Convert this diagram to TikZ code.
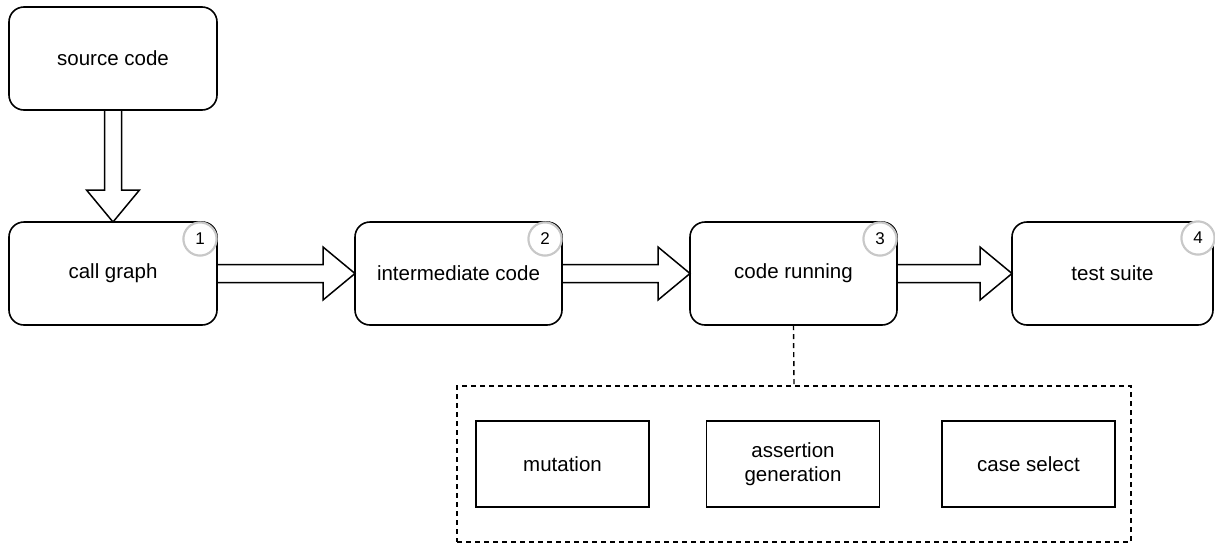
\documentclass[tikz,border=0pt]{standalone}
\usepackage{fontspec}
\setmainfont{Liberation Sans}
\usetikzlibrary{calc}
\definecolor{ringgray}{HTML}{C8C8C8}
\tikzset{
  stage/.style={draw=black, line width=1.6pt, rounded corners=15pt, fill=white,
    minimum width=207pt, minimum height=103pt, outer sep=0pt, inner sep=0pt,
    font=\fontsize{20.5}{24}\selectfont},
  sub/.style={draw=black, line width=1.6pt, fill=white,
    minimum width=173pt, minimum height=86pt, outer sep=0pt, inner sep=0pt,
    align=center, font=\fontsize{20.5}{24}\selectfont},
  numring/.style={circle, draw=ringgray, line width=2pt, fill=white,
    minimum size=33pt, inner sep=0pt, outer sep=0pt,
    font=\fontsize{17}{20}\selectfont},
  group/.style={draw=black, line width=1.4pt, dash pattern=on 5pt off 4pt,
    minimum width=674pt, minimum height=156pt, outer sep=0pt},
  blockarrow/.style={draw=black, line width=1.5pt, fill=white, line join=miter},
  link/.style={draw=black, line width=1.4pt, dash pattern=on 5pt off 4pt}
}
\begin{document}
\begin{tikzpicture}[x=1pt, y=-1pt]
\useasboundingbox (0,0) rectangle (1215,544);

\node[stage, minimum width=208pt] (src) at (113,58.5) {source code};
\node[stage, minimum width=208pt] (b1) at (113,273.5) {call graph};
\node[stage] (b2) at (458.5,273.5) {intermediate code};
\node[stage] (b3) at (793.5,273.5) {code running};
\node[stage, minimum width=201pt] (b4) at (1112.5,273.5) {test suite};

\node[numring] (n1) at ($(b1.north east)+(-17,17)$) {1};
\node[numring] (n2) at ($(b2.north east)+(-17,17)$) {2};
\node[numring] (n3) at ($(b3.north east)+(-17,17)$) {3};
\node[numring] (n4) at ($(b4.north east)+(-15,16)$) {4};

% vertical block arrow
\draw[blockarrow] ($(src.south)+(-8.5,0)$) -- ($(b1.north)+(-8.5,-32)$)
  -- ($(b1.north)+(-26.5,-32)$) -- (b1.north) -- ($(b1.north)+(26.5,-32)$)
  -- ($(b1.north)+(8.5,-32)$) -- ($(src.south)+(8.5,0)$) -- cycle;

% horizontal block arrows
\draw[blockarrow] ($(b1.east)+(0,-9)$) -- ($(b2.west)+(-32,-9)$)
  -- ($(b2.west)+(-32,-26.5)$) -- (b2.west) -- ($(b2.west)+(-32,26.5)$)
  -- ($(b2.west)+(-32,9)$) -- ($(b1.east)+(0,9)$) -- cycle;
\draw[blockarrow] ($(b2.east)+(0,-9)$) -- ($(b3.west)+(-32,-9)$)
  -- ($(b3.west)+(-32,-26.5)$) -- (b3.west) -- ($(b3.west)+(-32,26.5)$)
  -- ($(b3.west)+(-32,9)$) -- ($(b2.east)+(0,9)$) -- cycle;
\draw[blockarrow] ($(b3.east)+(0,-9)$) -- ($(b4.west)+(-32,-9)$)
  -- ($(b4.west)+(-32,-26.5)$) -- (b4.west) -- ($(b4.west)+(-32,26.5)$)
  -- ($(b4.west)+(-32,9)$) -- ($(b3.east)+(0,9)$) -- cycle;

% redraw rings on top of box borders
\node[numring] at (n1) {1};
\node[numring] at (n2) {2};
\node[numring] at (n3) {3};
\node[numring] at (n4) {4};

% dashed group
\node[group] (grp) at (794,464) {};
\node[sub] (mut) at (562.5,464) {mutation};
\node[sub] (asg) at (793,464) {assertion\\generation};
\node[sub] (cs) at (1028.5,464) {case select};

\draw[link] (b3.south) -- (grp.north);
\end{tikzpicture}
\end{document}
